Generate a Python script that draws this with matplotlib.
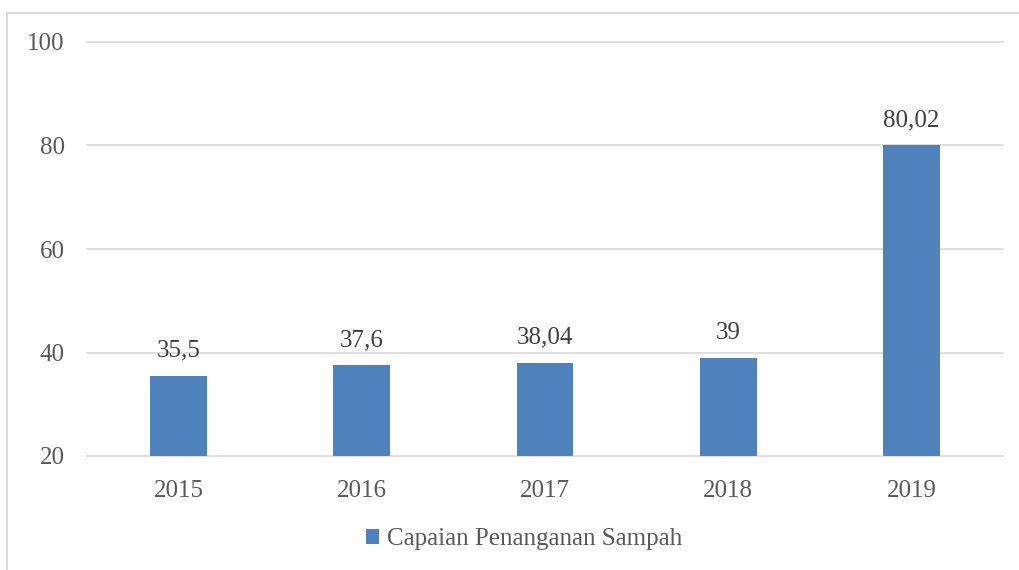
import matplotlib
matplotlib.use("Agg")
import matplotlib.pyplot as plt
from matplotlib.patches import Rectangle

years = ["2015", "2016", "2017", "2018", "2019"]
values = [35.5, 37.6, 38.04, 39, 80.02]
labels = ["35,5", "37,6", "38,04", "39", "80,02"]
yticks = [20, 40, 60, 80, 100]
series_name = "Capaian Penanganan Sampah"

plt.rcParams['font.family'] = ['Liberation Serif', 'DejaVu Serif']
text_color = "#595959"
bar_color = "#4f81bd"
grid_color = "#d9d9d9"

fig = plt.figure(figsize=(10.2, 5.7), dpi=100)
ax = fig.add_axes([87/1020, 1 - 456/570, (1003-87)/1020, (456-42)/570])

# chart border
fig.patches.append(Rectangle((7/1020, -0.01), 1.0, 1 - 13/570 + 0.01,
                             transform=fig.transFigure, fill=False,
                             edgecolor=grid_color, linewidth=1.5))

x = range(len(years))
bars = ax.bar(x, [v - 20 for v in values], bottom=20, width=0.31,
              color=bar_color, label=series_name, zorder=3)
for xi, v, lab in zip(x, values, labels):
    ax.annotate(lab, (xi, v), xytext=(0, 10), textcoords="offset points",
                ha="center", va="bottom", fontsize=18, color="#404040")

ax.set_ylim(20, 100)
ax.set_xlim(-0.5, len(years) - 0.5)
ax.set_yticks(yticks)
ax.set_xticks(list(x))
ax.set_xticklabels(years)
ax.grid(axis="y", color=grid_color, linewidth=1.2, zorder=0)
for gl in ax.get_ygridlines():
    gl.set_clip_on(False)
for s in ax.spines.values():
    s.set_visible(False)
ax.tick_params(axis="both", length=0, colors=text_color, labelsize=18)
ax.tick_params(axis="y", pad=16)
ax.tick_params(axis="x", pad=17)

fig.legend(handles=[bars], labels=[series_name], loc="center",
           bbox_to_anchor=(524/1020, 1 - 539/570), frameon=False,
           fontsize=18, labelcolor=text_color, handlelength=0.55,
           handleheight=0.55, handletextpad=0.3)

fig.savefig("out.png", dpi=100)
